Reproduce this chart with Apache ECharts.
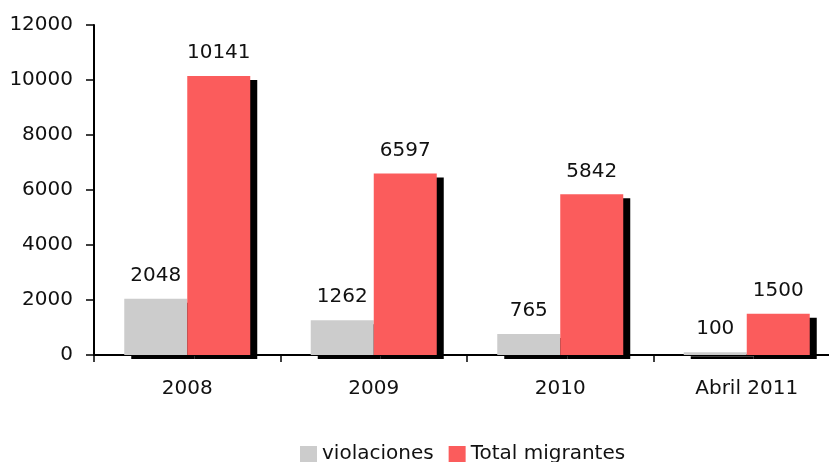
<!DOCTYPE html>
<html>
<head>
<meta charset="utf-8">
<script src="https://cdn.jsdelivr.net/npm/echarts@6/dist/echarts.min.js"></script>
<style>html,body{margin:0;padding:0;background:#fff;overflow:hidden;width:829px;height:462px}#c{width:850px;height:462px}</style>
</head>
<body>
<div id="c"></div>
<script>
const categories = ['2008', '2009', '2010', 'Abril 2011'];
const violaciones = [2048, 1262, 765, 100];
const totalMigrantes = [10141, 6597, 5842, 1500];
const yTicks = { min: 0, max: 12000, interval: 2000 };

const FONT = 'DejaVu Sans';
const chart = echarts.init(document.getElementById('c'));
const barShadow = { shadowColor: '#000', shadowBlur: 0, shadowOffsetX: 7, shadowOffsetY: 4 };
const labelStyle = { show: true, position: 'top', distance: 13, fontFamily: FONT, fontSize: 20, color: '#111' };
chart.setOption({
  animation: false,
  backgroundColor: '#fff',
  grid: { left: 94, width: 746, top: 25, height: 330 },
  legend: {
    data: ['violaciones', 'Total migrantes'],
    left: 295, top: 439, icon: 'rect', itemWidth: 17, itemHeight: 16, itemGap: 15,
    textStyle: { fontFamily: FONT, fontSize: 20, color: '#111' }
  },
  xAxis: {
    type: 'category', data: categories,
    axisLine: { lineStyle: { color: '#000', width: 2 } },
    axisTick: { show: true, length: 7, lineStyle: { color: '#000', width: 1.5 } },
    axisLabel: { fontFamily: FONT, fontSize: 20, color: '#111', margin: 24 }
  },
  yAxis: {
    type: 'value', min: yTicks.min, max: yTicks.max, interval: yTicks.interval,
    splitLine: { show: false },
    axisLine: { show: true, lineStyle: { color: '#000', width: 2 } },
    axisTick: { show: true, length: 8, lineStyle: { color: '#000', width: 1.5 } },
    axisLabel: { fontFamily: FONT, fontSize: 20, color: '#111', margin: 21, formatter: v => String(v) }
  },
  series: [
    { name: 'violaciones', type: 'bar', data: violaciones, barWidth: 63, barGap: '0%',
      itemStyle: Object.assign({ color: '#CCCCCC' }, barShadow), label: labelStyle },
    { name: 'Total migrantes', type: 'bar', data: totalMigrantes, barWidth: 63, barGap: '0%',
      itemStyle: Object.assign({ color: '#FB5C5C' }, barShadow), label: labelStyle }
  ]
});
</script>
</body>
</html>
